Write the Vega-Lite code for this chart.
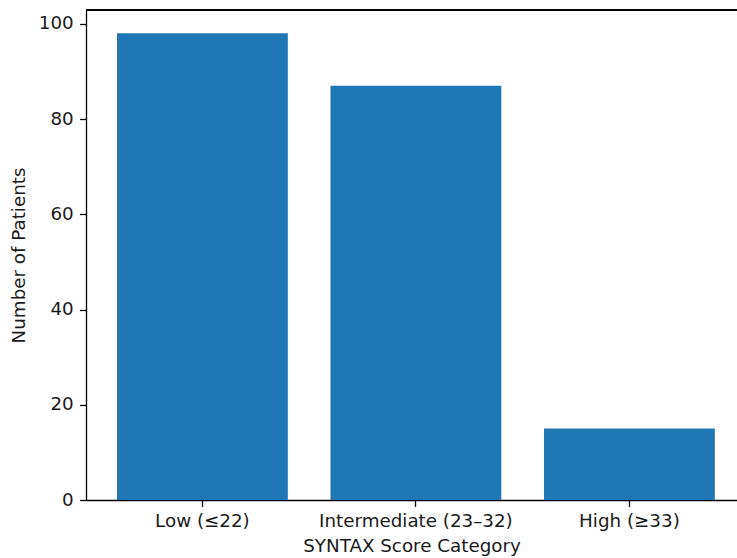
{
  "$schema": "https://vega.github.io/schema/vega-lite/v6.json",
  "autosize": "none",
  "width": 651,
  "height": 490,
  "padding": {"left": 86, "top": 10, "right": 0, "bottom": 58},
  "background": "white",
  "view": {"stroke": null},
  "config": {
    "view": {"stroke": null, "strokeWidth": 0},
    "font": "DejaVu Sans",
    "axis": {
      "grid": false,
      "domainColor": "black",
      "domainWidth": 1.3,
      "tickColor": "black",
      "tickWidth": 1.3,
      "tickSize": 6.4,
      "labelPadding": 6.4,
      "labelLimit": 0,
      "labelFont": "DejaVu Sans",
      "labelFontSize": 18.3,
      "labelColor": "#1a1a1a",
      "titleFont": "DejaVu Sans",
      "titleFontSize": 18.3,
      "titleFontWeight": "normal",
      "titleColor": "#1a1a1a"
    }
  },
  "data": {
    "values": [
      {"category": "Low (≤22)", "patients": 98},
      {"category": "Intermediate (23–32)", "patients": 87},
      {"category": "High (≥33)", "patients": 15}
    ]
  },
  "layer": [
    {
      "mark": {"type": "bar", "color": "#1f77b4"},
      "encoding": {
        "x": {
          "field": "category",
          "type": "nominal",
          "sort": null,
          "title": "SYNTAX Score Category",
          "scale": {"paddingInner": 0.2, "paddingOuter": 0.1246, "align": 0.583},
          "axis": {"labelAngle": 0, "titlePadding": 7, "labelLimit": 0}
        },
        "y": {
          "field": "patients",
          "type": "quantitative",
          "title": "Number of Patients",
          "scale": {"domain": [0, 102.9], "nice": false, "zero": true},
          "axis": {"values": [0, 20, 40, 60, 80, 100], "titlePadding": 10}
        }
      }
    },
    {
      "mark": {"type": "rule", "color": "black", "strokeWidth": 1.3},
      "encoding": {"y": {"datum": 102.9}}
    }
  ]
}
